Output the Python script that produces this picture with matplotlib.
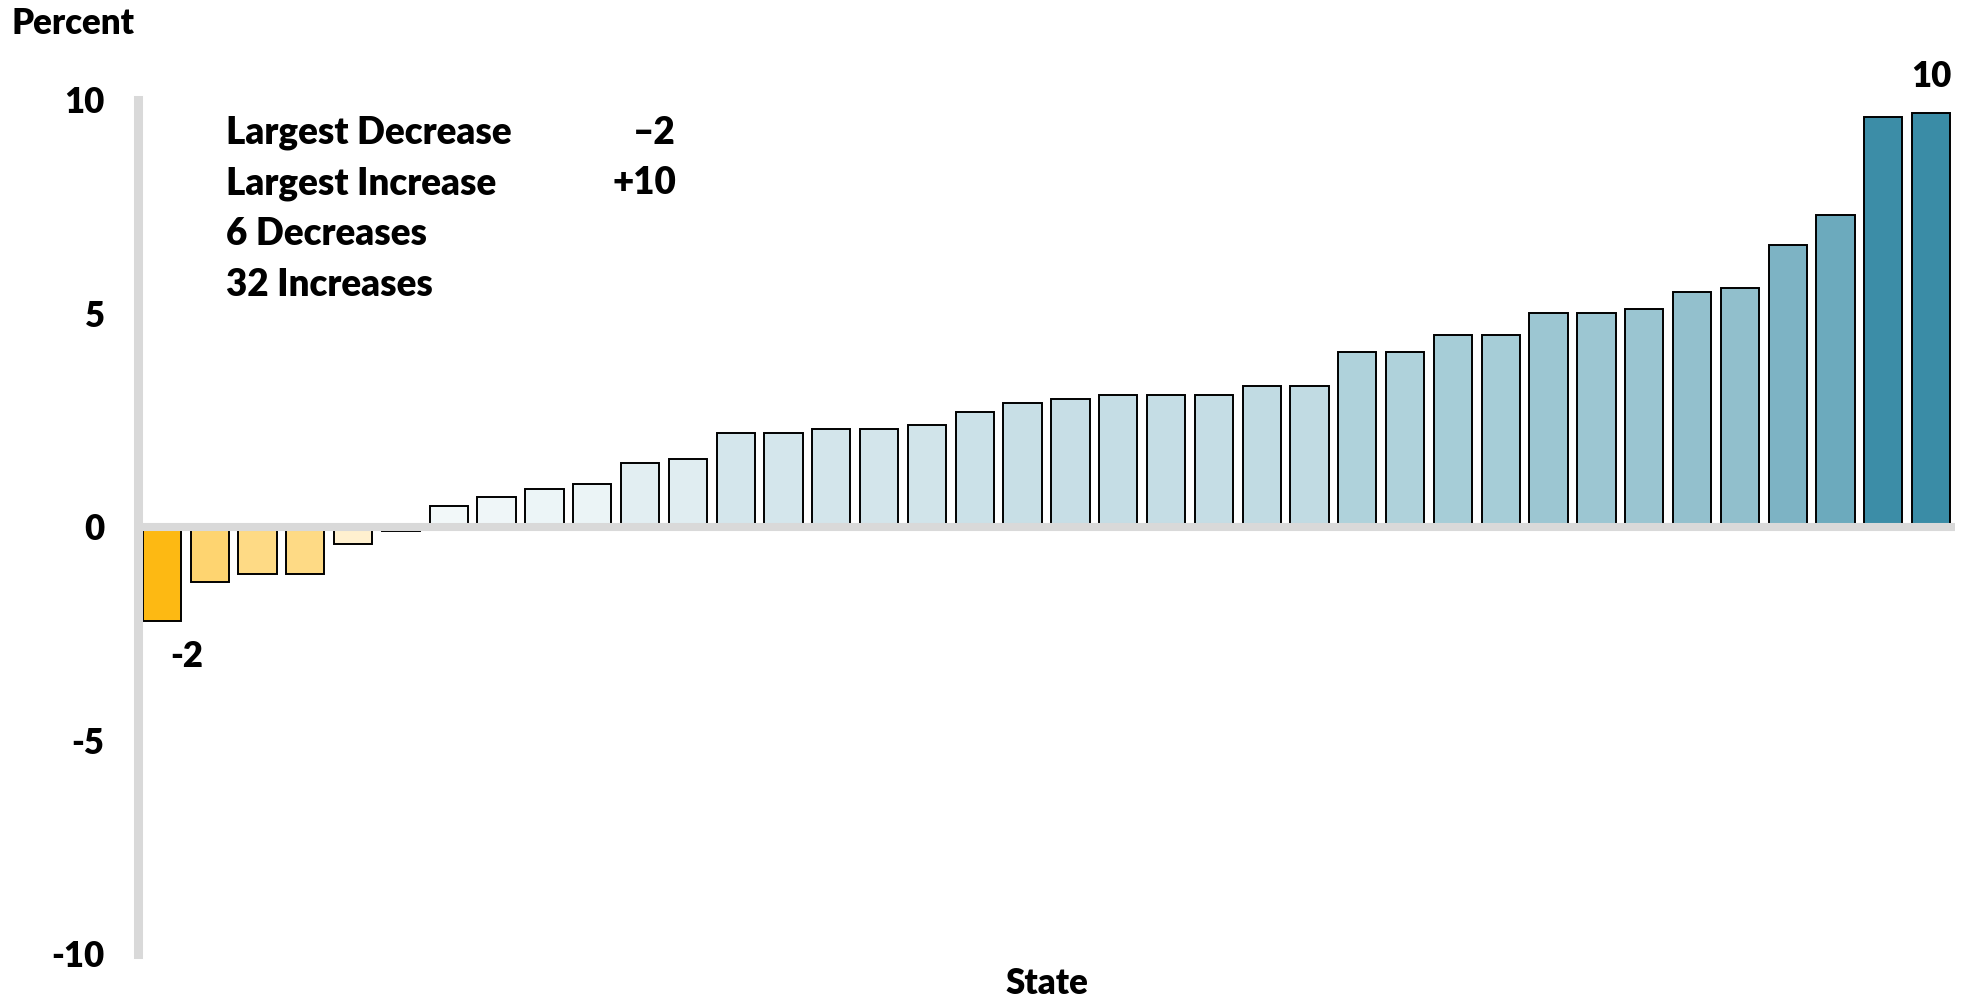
import matplotlib
matplotlib.use("Agg")
import matplotlib.pyplot as plt
from matplotlib.colors import LinearSegmentedColormap, to_rgb

# percent change by state, sorted
values = [-2.2, -1.3, -1.1, -1.1, -0.4, -0.1,
          0.5, 0.7, 0.9, 1.0, 1.5, 1.6, 2.2, 2.2, 2.3, 2.3, 2.4, 2.7, 2.9, 3.0,
          3.1, 3.1, 3.1, 3.3, 3.3, 4.1, 4.1, 4.5, 4.5, 5.0, 5.0, 5.1, 5.5, 5.6,
          6.6, 7.3, 9.6, 9.7]
yticks = [-10, -5, 0, 5, 10]
ytick_labels = ["-10", "-5", "0", "5", "10"]

plt.rcParams['font.family'] = ['Lato', 'DejaVu Sans']
plt.rcParams['font.weight'] = 'heavy'
FS = 25


def make_cmap(stops, vmax):
    return LinearSegmentedColormap.from_list(
        "c", [(v / vmax, to_rgb(c)) for v, c in stops])


blue_stops = [(0, "#f8fbfc"), (1.0, "#ebf4f6"), (2.2, "#d4e6ec"), (3.2, "#c3dce4"),
              (4.1, "#aed2db"), (5.0, "#9cc6d2"), (5.6, "#91bfcc"), (6.6, "#7db3c4"),
              (7.3, "#6caabd"), (9.7, "#3a8ca6"), (10, "#388aa5")]
yellow_stops = [(0, "#fff7e4"), (0.4, "#fff0cf"), (1.1, "#feda85"), (1.3, "#fed470"),
                (2.2, "#fdb913"), (2.5, "#fdb50a")]
blues = make_cmap(blue_stops, 10)
yellows = make_cmap(yellow_stops, 2.5)
colors = [blues(v / 10) if v > 0 else yellows(-v / 2.5) for v in values]

fig = plt.figure(figsize=(19.68, 9.96), dpi=100)
ax = fig.add_axes([0.0701, 0.0422, 0.9233, 0.8574])

x = range(len(values))
ax.bar(x, values, width=0.8, color=colors, edgecolor="black", linewidth=1.4, zorder=2)
ax.axhline(0, color="#d9d9d9", lw=5.8, zorder=3)

ax.set_xlim(-0.5, len(values) - 0.5)
ax.set_ylim(-10, 10)
for s in ["top", "right", "bottom"]:
    ax.spines[s].set_visible(False)
ax.spines["left"].set_color("#d9d9d9")
ax.spines["left"].set_linewidth(6.5)
ax.set_xticks([])
ax.set_yticks(yticks)
ax.set_yticklabels(ytick_labels, fontsize=FS, fontweight="heavy")
ax.tick_params(axis="y", length=0, pad=24)

# end labels
ax.annotate(f"{values[0]:.0f}", xy=(0, values[0]), xytext=(6, -14),
            textcoords="offset points", ha="left", va="top", fontsize=FS)
ax.annotate(f"{values[-1]:.0f}", xy=(len(values) - 1, values[-1]), xytext=(0, 14),
            textcoords="offset points", ha="center", va="bottom", fontsize=FS)

# summary box
n_dec = sum(v < 0 for v in values)
n_inc = sum(v > 0 for v in values)
summary = [("Largest Decrease", f"\u2013{abs(round(min(values)))}"),
           ("Largest Increase", f"+{round(max(values))}"),
           (f"{n_dec} Decreases", ""),
           (f"{n_inc} Increases", "")]
for i, (lab, val) in enumerate(summary):
    y = 1 - (133 + 50.5 * i) / 996
    fig.text(226 / 1968, y, lab, ha="left", va="center", fontsize=26.5)
    fig.text(676 / 1968, y, val, ha="right", va="center", fontsize=26.5)

fig.text(12 / 1968, 1 - 23 / 996, "Percent", ha="left", va="center", fontsize=FS)
fig.text(1047 / 1968, 1 - 983 / 996, "State", ha="center", va="center", fontsize=FS)

fig.savefig("out.png", dpi=100)
